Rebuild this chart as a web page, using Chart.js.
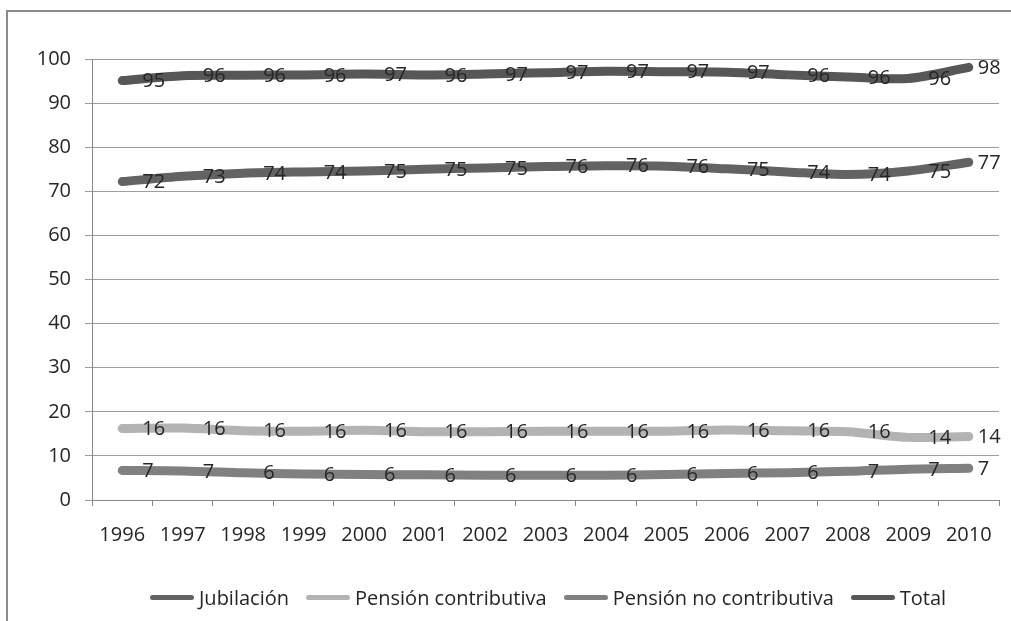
<!DOCTYPE html>
<html>
<head>
<meta charset="utf-8">
<script src="https://cdn.jsdelivr.net/npm/chart.js@4.4.1/dist/chart.umd.min.js"></script>
<style>
  html, body { margin: 0; padding: 0; background: #fff; overflow: hidden; }
  #wrap { position: relative; width: 1011px; height: 621px; }
  #frame {
    position: absolute; left: 6px; top: 10px; width: 1100px; height: 700px;
    border: 2px solid #8a8a8a; box-sizing: border-box;
  }
  #chart { position: absolute; left: 0; top: 0; }
  #legend {
    position: absolute; left: 150px; top: 585px; height: 24px;
    display: flex; align-items: center;
    font-family: "Open Sans", sans-serif; font-size: 20px; color: #262626;
  }
  .item { display: flex; align-items: center; margin-right: 17px; }
  .swatch { width: 44px; height: 5px; border-radius: 2.5px; margin-right: 5px; }
</style>
</head>
<body>
<div id="wrap">
  <div id="frame"></div>
  <canvas id="chart" width="1011" height="621"></canvas>
  <div id="legend"></div>
</div>
<script>
// años
const years = ["1996", "1997", "1998", "1999", "2000", "2001", "2002", "2003",
  "2004", "2005", "2006", "2007", "2008", "2009", "2010"];

// series (%)
const jubilacion = [72.2, 73.4, 74.1, 74.4, 74.6, 75.0, 75.3, 75.6, 75.8, 75.7, 75.1, 74.4, 73.8, 74.6, 76.6];
const pensionContributiva = [16.2, 16.3, 15.7, 15.6, 15.8, 15.5, 15.5, 15.6, 15.6, 15.6, 15.9, 15.7, 15.5, 14.2, 14.4];
const pensionNoContributiva = [6.7, 6.6, 6.2, 5.9, 5.8, 5.7, 5.6, 5.6, 5.6, 5.8, 6.0, 6.2, 6.5, 7.0, 7.2];
const total = [95.1, 96.2, 96.3, 96.4, 96.6, 96.4, 96.6, 96.9, 97.2, 97.1, 97.0, 96.4, 95.9, 95.6, 98.1];

const seriesNames = ["Jubilación", "Pensión contributiva", "Pensión no contributiva", "Total"];
const seriesData = [jubilacion, pensionContributiva, pensionNoContributiva, total];
const seriesColors = ["#636363", "#b3b3b3", "#808080", "#575757"];

const FONT = "Open Sans";

// etiquetas de datos a la derecha de cada punto
const dataLabels = {
  id: "dataLabels",
  afterDatasetsDraw(chart) {
    const ctx = chart.ctx;
    ctx.save();
    ctx.font = "20px '" + FONT + "'";
    ctx.fillStyle = "#262626";
    ctx.textBaseline = "middle";
    ctx.textAlign = "left";
    chart.data.datasets.forEach((ds, i) => {
      const meta = chart.getDatasetMeta(i);
      meta.data.forEach((pt, j) => {
        const dx = j === ds.data.length - 1 ? 9 : 20;
        ctx.fillText(String(Math.round(ds.data[j])), pt.x + dx, pt.y + 1);
      });
    });
    ctx.restore();
  }
};

const ctx = document.getElementById("chart").getContext("2d");
new Chart(ctx, {
  type: "line",
  data: {
    labels: years,
    datasets: seriesNames.map((name, i) => ({
      label: name,
      data: seriesData[i],
      borderColor: seriesColors[i],
      backgroundColor: seriesColors[i],
      borderWidth: 9,
      borderCapStyle: "round",
      borderJoinStyle: "round",
      pointRadius: 0,
      pointHoverRadius: 0,
      tension: 0.3,
      fill: false,
    })),
  },
  options: {
    responsive: false,
    animation: false,
    layout: { padding: { left: 0, right: 12, top: 59, bottom: 0 } },
    plugins: {
      legend: { display: false },
      tooltip: { enabled: false },
    },
    scales: {
      x: {
        offset: true,
        grid: {
          offset: true,
          drawOnChartArea: false,
          drawTicks: true,
          tickLength: 6,
          color: "#888",
        },
        border: { color: "#888", width: 1 },
        ticks: {
          font: { family: FONT, size: 20 },
          color: "#262626",
          padding: 17,
          maxRotation: 0,
          autoSkip: false,
        },
        afterFit(scale) { scale.height = 121; },
      },
      y: {
        min: 0,
        max: 100,
        ticks: {
          stepSize: 10,
          font: { family: FONT, size: 20 },
          color: "#262626",
          padding: 14,
        },
        grid: { color: "#9e9e9e", tickLength: 7 },
        border: { color: "#888", width: 1 },
        afterFit(scale) { scale.width = 92; },
      },
    },
  },
  plugins: [dataLabels],
});

// leyenda
const legend = document.getElementById("legend");
seriesNames.forEach((name, i) => {
  const item = document.createElement("div");
  item.className = "item";
  item.innerHTML = '<span class="swatch" style="background:' + seriesColors[i] + '"></span>' + name;
  legend.appendChild(item);
});
</script>
</body>
</html>
